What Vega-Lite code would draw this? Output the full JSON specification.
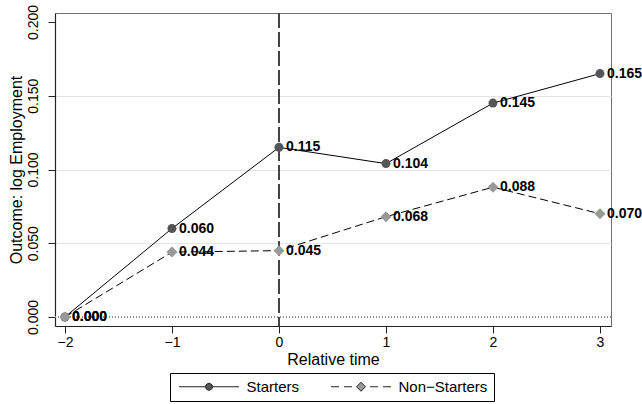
{
  "$schema": "https://vega.github.io/schema/vega-lite/v6.json",
  "width": 556,
  "height": 313,
  "autosize": "none",
  "padding": {"left": 55, "top": 13, "right": 31, "bottom": 78},
  "background": "white",
  "config": {
    "font": "Liberation Sans",
    "view": {"stroke": "#6e6e6e", "strokeWidth": 1},
    "axis": {
      "labelFont": "Liberation Sans",
      "titleFont": "Liberation Sans",
      "labelColor": "black",
      "titleColor": "black",
      "titleFontWeight": "normal",
      "domainColor": "#222222",
      "tickColor": "#222222",
      "domainWidth": 1.2,
      "tickWidth": 1
    }
  },
  "data": {
    "values": [
      {"time": -2, "value": 0.000, "series": "Starters"},
      {"time": -1, "value": 0.060, "series": "Starters"},
      {"time": 0, "value": 0.115, "series": "Starters"},
      {"time": 1, "value": 0.104, "series": "Starters"},
      {"time": 2, "value": 0.145, "series": "Starters"},
      {"time": 3, "value": 0.165, "series": "Starters"},
      {"time": -2, "value": 0.000, "series": "Non−Starters"},
      {"time": -1, "value": 0.044, "series": "Non−Starters"},
      {"time": 0, "value": 0.045, "series": "Non−Starters"},
      {"time": 1, "value": 0.068, "series": "Non−Starters"},
      {"time": 2, "value": 0.088, "series": "Non−Starters"},
      {"time": 3, "value": 0.070, "series": "Non−Starters"}
    ]
  },
  "layer": [
    {
      "mark": {"type": "rule", "color": "#8c8c8c", "strokeDash": [1, 2], "strokeWidth": 1},
      "encoding": {
        "y": {"datum": 0, "type": "quantitative", "scale": {"domain": [-0.0061, 0.2061], "nice": false, "zero": false}}
      }
    },
    {
      "mark": {"type": "rule", "color": "#444444", "strokeDash": [15, 4], "strokeWidth": 1},
      "encoding": {
        "x": {"datum": 0, "type": "quantitative", "scale": {"domain": [-2.093, 3.103], "nice": false, "zero": false}}
      }
    },
    {
      "transform": [{"filter": "datum.series === 'Starters'"}],
      "mark": {"type": "line", "color": "black", "strokeWidth": 1},
      "encoding": {
        "x": {
          "field": "time", "type": "quantitative",
          "scale": {"domain": [-2.093, 3.103], "nice": false, "zero": false},
          "axis": {
            "title": "Relative time", "values": [-2, -1, 0, 1, 2, 3], "format": "d",
            "grid": false, "tickSize": 7, "labelPadding": 2, "labelFontSize": 14,
            "titleFontSize": 16, "titlePadding": 2
          }
        },
        "y": {
          "field": "value", "type": "quantitative",
          "scale": {"domain": [-0.0061, 0.2061], "nice": false, "zero": false},
          "axis": {
            "title": "Outcome: log Employment", "values": [0, 0.05, 0.1, 0.15, 0.2], "format": ".3f",
            "labelAngle": 270, "labelAlign": "center", "labelBaseline": "bottom",
            "tickSize": 7, "labelPadding": 8, "labelFontSize": 14,
            "titleFontSize": 16, "titlePadding": 2,
            "grid": true, "gridWidth": 1,
            "gridColor": {"condition": {"test": "datum.value === 0 || datum.value === 0.2", "value": "transparent"}, "value": "#e3e3e3"}
          }
        }
      }
    },
    {
      "transform": [{"filter": "datum.series !== 'Starters'"}],
      "mark": {"type": "line", "color": "black", "strokeWidth": 1, "strokeDash": [8, 4]},
      "encoding": {
        "x": {"field": "time", "type": "quantitative", "scale": {"domain": [-2.093, 3.103], "nice": false, "zero": false}},
        "y": {"field": "value", "type": "quantitative", "scale": {"domain": [-0.0061, 0.2061], "nice": false, "zero": false}}
      }
    },
    {
      "transform": [{"filter": "datum.series === 'Starters'"}],
      "mark": {"type": "point", "shape": "circle", "filled": true, "size": 81, "color": "#555555", "opacity": 1},
      "encoding": {
        "x": {"field": "time", "type": "quantitative", "scale": {"domain": [-2.093, 3.103], "nice": false, "zero": false}},
        "y": {"field": "value", "type": "quantitative", "scale": {"domain": [-0.0061, 0.2061], "nice": false, "zero": false}}
      }
    },
    {
      "transform": [{"filter": "datum.series !== 'Starters'"}],
      "mark": {"type": "point", "shape": "diamond", "filled": true, "size": 121, "color": "#999999", "opacity": 1},
      "encoding": {
        "x": {"field": "time", "type": "quantitative", "scale": {"domain": [-2.093, 3.103], "nice": false, "zero": false}},
        "y": {"field": "value", "type": "quantitative", "scale": {"domain": [-0.0061, 0.2061], "nice": false, "zero": false}}
      }
    },
    {
      "mark": {"type": "text", "align": "left", "baseline": "middle", "dx": 7, "fontSize": 14, "fontWeight": "bold", "font": "Liberation Sans", "color": "black"},
      "encoding": {
        "x": {"field": "time", "type": "quantitative", "scale": {"domain": [-2.093, 3.103], "nice": false, "zero": false}},
        "y": {"field": "value", "type": "quantitative", "scale": {"domain": [-0.0061, 0.2061], "nice": false, "zero": false}},
        "text": {"field": "value", "type": "quantitative", "format": ".3f"}
      }
    },
    {
      "mark": {"type": "point", "filled": true, "size": 100, "stroke": "#222222", "strokeWidth": 1, "opacity": 0},
      "encoding": {
        "x": {"field": "time", "type": "quantitative", "scale": {"domain": [-2.093, 3.103], "nice": false, "zero": false}},
        "y": {"field": "value", "type": "quantitative", "scale": {"domain": [-0.0061, 0.2061], "nice": false, "zero": false}},
        "shape": {
          "field": "series", "type": "nominal",
          "scale": {"domain": ["Starters", "Non−Starters"], "range": ["M-6,0H-0.7M0.7,0H6M0.7,0L0.606,0.35L0.35,0.606L0,0.7L-0.35,0.606L-0.606,0.35L-0.7,0L-0.606,-0.35L-0.35,-0.606L0,-0.7L0.35,-0.606L0.606,-0.35Z", "M-6,0H-4.4M-3.4,0H-1.8M1.8,0H3.4M4.4,0H6M0,-0.9L0.9,0L0,0.9L-0.9,0Z"]},
          "legend": {
            "title": null, "orient": "none", "legendX": 115, "legendY": 360,
            "direction": "horizontal", "columns": 2, "strokeColor": "black", "padding": 6,
            "symbolSize": 100, "symbolOffset": 25.5, "labelOffset": 30, "columnPadding": 28,
            "labelFontSize": 15, "labelFont": "Liberation Sans", "labelColor": "black",
            "symbolStrokeColor": "#222222", "symbolStrokeWidth": 1, "symbolOpacity": 1,
            "encode": {"symbols": {"update": {"opacity": {"value": 1}, "stroke": {"value": "#222222"}, "strokeWidth": {"value": 1}}}}
          }
        },
        "fill": {
          "field": "series", "type": "nominal",
          "scale": {"domain": ["Starters", "Non−Starters"], "range": ["#555555", "#999999"]},
          "legend": {
            "title": null, "orient": "none", "legendX": 115, "legendY": 360,
            "direction": "horizontal", "columns": 2, "strokeColor": "black", "padding": 6,
            "symbolSize": 100, "symbolOffset": 25.5, "labelOffset": 30, "columnPadding": 28,
            "labelFontSize": 15, "labelFont": "Liberation Sans", "labelColor": "black",
            "symbolStrokeColor": "#222222", "symbolStrokeWidth": 1, "symbolOpacity": 1,
            "encode": {"symbols": {"update": {"opacity": {"value": 1}, "stroke": {"value": "#222222"}, "strokeWidth": {"value": 1}}}}
          }
        }
      }
    }
  ]
}
